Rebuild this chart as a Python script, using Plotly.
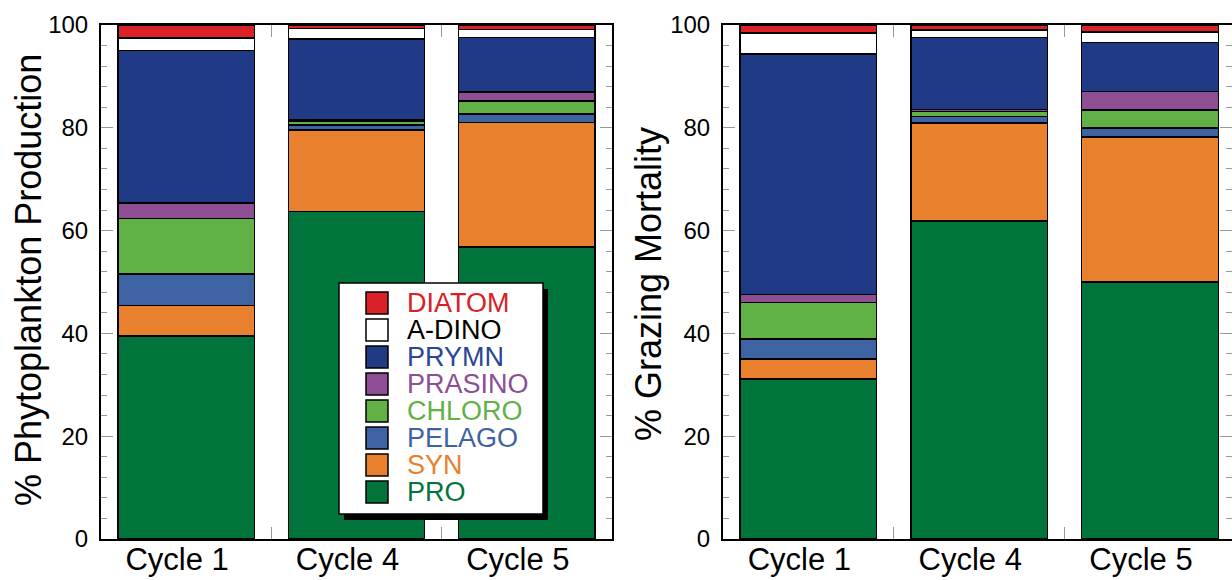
import plotly.graph_objects as go

cycles = ["Cycle 1", "Cycle 4", "Cycle 5"]
groups = ["PRO", "SYN", "PELAGO", "CHLORO", "PRASINO", "PRYMN", "A-DINO", "DIATOM"]

# % Phytoplankton Production (bottom -> top)
prod_PRO = [39.5, 63.7, 56.8]
prod_SYN = [5.9, 15.9, 24.2]
prod_PELAGO = [6.2, 0.9, 1.7]
prod_CHLORO = [10.8, 0.8, 2.5]
prod_PRASINO = [3.0, 0.2, 1.8]
prod_PRYMN = [29.6, 15.8, 10.6]
prod_ADINO = [2.5, 2.0, 1.5]
prod_DIATOM = [2.5, 0.7, 0.9]

# % Grazing Mortality (bottom -> top)
graz_PRO = [31.1, 61.9, 50.0]
graz_SYN = [3.9, 19.0, 28.2]
graz_PELAGO = [3.9, 1.3, 1.8]
graz_CHLORO = [7.1, 1.0, 3.5]
graz_PRASINO = [1.6, 0.4, 3.6]
graz_PRYMN = [46.8, 14.0, 9.5]
graz_ADINO = [4.0, 1.4, 2.0]
graz_DIATOM = [1.6, 1.0, 1.4]

y_ticks = [0, 20, 40, 60, 80, 100]

production = [prod_PRO, prod_SYN, prod_PELAGO, prod_CHLORO, prod_PRASINO, prod_PRYMN, prod_ADINO, prod_DIATOM]
grazing = [graz_PRO, graz_SYN, graz_PELAGO, graz_CHLORO, graz_PRASINO, graz_PRYMN, graz_ADINO, graz_DIATOM]

fill_colors = {
    "PRO": "#00743B", "SYN": "#E9802E", "PELAGO": "#3E63A3", "CHLORO": "#62B147",
    "PRASINO": "#8E4E93", "PRYMN": "#213A85", "A-DINO": "#FFFFFF", "DIATOM": "#DA2128",
}
text_colors = {
    "PRO": "#00743B", "SYN": "#E9802E", "PELAGO": "#3E63A3", "CHLORO": "#62B147",
    "PRASINO": "#8E4E93", "PRYMN": "#2A4696", "A-DINO": "#000000", "DIATOM": "#DA2128",
}

FONT = "Liberation Sans, Arial, Helvetica, sans-serif"
W, H = 1232, 580
ML, MR, MT, MB = 0, 0, 25, 41
PW, PH = W - ML - MR, H - MT - MB

def px(x):
    return (x - ML) / PW

def py(y):
    return (H - MB - y) / PH

xpos = list(range(len(cycles)))

fig = go.Figure()
for g, vals in zip(groups, production):
    fig.add_trace(go.Bar(x=xpos, y=vals, name=g, width=0.8, showlegend=False,
                         marker=dict(color=fill_colors[g], line=dict(color="black", width=1.5)),
                         xaxis="x", yaxis="y"))
for g, vals in zip(groups, grazing):
    fig.add_trace(go.Bar(x=xpos, y=vals, name=g, width=0.8, showlegend=False,
                         marker=dict(color=fill_colors[g], line=dict(color="black", width=1.5)),
                         xaxis="x2", yaxis="y2"))

xaxis_common = dict(
    tickmode="array", tickvals=xpos, ticktext=cycles, ticks="",
    showline=True, linecolor="black", linewidth=2, mirror="ticks",
    showgrid=False, zeroline=False, automargin=False,
    tickfont=dict(family=FONT, size=31, color="black"),
    ticklabelshift=-9, ticklabelstandoff=-8,
    minor=dict(tickmode="array", tickvals=[0.5, 1.5], ticks="inside", ticklen=12,
               tickcolor="#999999", tickwidth=1, showgrid=False),
)
yaxis_common = dict(
    range=[0, 100], tickmode="array", tickvals=y_ticks, ticks="inside", ticklen=12,
    tickcolor="#999999", tickwidth=1,
    showline=True, linecolor="black", linewidth=2, mirror="ticks",
    showgrid=False, zeroline=False, automargin=False,
    tickfont=dict(family=FONT, size=24, color="black"),
    ticklabelstandoff=6,
    minor=dict(dtick=4, tick0=0, ticks="inside", ticklen=6, tickcolor="#999999",
               tickwidth=1, showgrid=False),
)

fig.update_layout(
    width=W, height=H, autosize=False,
    margin=dict(l=ML, r=MR, t=MT, b=MB, autoexpand=False),
    paper_bgcolor="white", plot_bgcolor="white",
    barmode="stack", bargap=0.2,
    showlegend=False,
    xaxis=dict(domain=[px(101), px(612)], range=[-0.5, 2.5], anchor="y", **xaxis_common),
    yaxis=dict(domain=[0, 1], anchor="x", **yaxis_common),
    xaxis2=dict(domain=[px(723), 1.0], range=[-0.5, 2.48], anchor="y2", **xaxis_common),
    yaxis2=dict(domain=[0, 1], anchor="x2", **yaxis_common),
)

shapes = []
annotations = []

# axis titles
annotations.append(dict(text="% Phytoplankton Production", x=px(28), y=py(280),
                        xref="paper", yref="paper", textangle=-90, showarrow=False,
                        font=dict(family=FONT, size=36, color="black"),
                        xanchor="center", yanchor="middle"))
annotations.append(dict(text="% Grazing Mortality", x=px(648), y=py(284),
                        xref="paper", yref="paper", textangle=-90, showarrow=False,
                        font=dict(family=FONT, size=36, color="black"),
                        xanchor="center", yanchor="middle"))

# legend box with drop shadow
bx0, bx1, by0, by1 = 339, 543, 283, 514
shapes.append(dict(type="rect", xref="paper", yref="paper", layer="above",
                   x0=px(bx0 + 5), x1=px(bx1 + 5), y0=py(by0 + 6), y1=py(by1 + 6),
                   fillcolor="black", line=dict(width=0)))
shapes.append(dict(type="rect", xref="paper", yref="paper", layer="above",
                   x0=px(bx0), x1=px(bx1), y0=py(by0), y1=py(by1),
                   fillcolor="white", line=dict(color="black", width=1.5)))

legend_order = list(reversed(groups))
for i, g in enumerate(legend_order):
    top = 292 + i * 27
    shapes.append(dict(type="rect", xref="paper", yref="paper", layer="above",
                       x0=px(366), x1=px(388), y0=py(top), y1=py(top + 22),
                       fillcolor=fill_colors[g], line=dict(color="black", width=1.5)))
    annotations.append(dict(text=g, x=px(405), y=py(top + 11), xref="paper", yref="paper",
                            showarrow=False, xanchor="left", yanchor="middle",
                            font=dict(family=FONT, size=27, color=text_colors[g])))

fig.update_layout(shapes=shapes, annotations=annotations)

fig.write_html("out.html", config={"displayModeBar": False},
               post_script="document.body.style.margin='0';document.body.style.overflow='hidden';")
